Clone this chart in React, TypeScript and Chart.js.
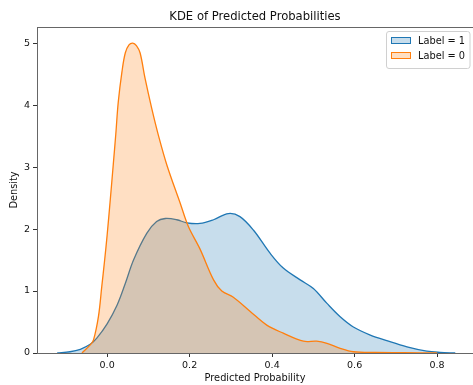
import React, { useEffect, useRef } from "react";
import { Chart, registerables } from "chart.js";

Chart.register(...registerables);

// Label = 1 KDE curve
const label1X = [-0.121, -0.09, -0.065, -0.041, -0.025, 0.0, 0.024, 0.044, 0.064, 0.096, 0.12, 0.141, 0.169, 0.193, 0.225, 0.258, 0.294, 0.322, 0.355, 0.395, 0.427, 0.468, 0.5, 0.533, 0.565, 0.597, 0.638, 0.678, 0.727, 0.775, 0.807, 0.844];
const label1Y = [0, 0.02, 0.06, 0.14, 0.24, 0.47, 0.77, 1.12, 1.5, 1.93, 2.12, 2.17, 2.15, 2.1, 2.09, 2.15, 2.25, 2.2, 1.98, 1.61, 1.37, 1.18, 1.04, 0.8, 0.585, 0.42, 0.29, 0.2, 0.1, 0.03, 0.01, 0];

// Label = 0 KDE curve
const label0X = [-0.061, -0.041, -0.033, -0.021, -0.013, -0.006, 0.0, 0.008, 0.015, 0.021, 0.027, 0.036, 0.044, 0.053, 0.062, 0.071, 0.08, 0.092, 0.108, 0.124, 0.145, 0.177, 0.197, 0.225, 0.258, 0.278, 0.306, 0.347, 0.387, 0.427, 0.476, 0.508, 0.533, 0.565, 0.597, 0.65, 0.72, 0.8];
const label0Y = [0, 0.13, 0.21, 0.59, 1.07, 1.5, 1.9, 2.5, 3.05, 3.53, 4.05, 4.54, 4.84, 4.97, 5.0, 4.96, 4.84, 4.43, 3.95, 3.52, 3.03, 2.42, 2.04, 1.68, 1.18, 1.0, 0.9, 0.67, 0.45, 0.32, 0.19, 0.19, 0.155, 0.075, 0.02, 0.008, 0.005, 0];

const xTicks = [0.0, 0.2, 0.4, 0.6, 0.8];
const yTicks = [0, 1, 2, 3, 4, 5];

const seriesNames = ["Label = 1", "Label = 0"];
const seriesLines = ["#1f77b4", "#ff7f0e"];
const seriesFills = ["rgba(31,119,180,0.25)", "rgba(255,127,14,0.25)"];

const TITLE = "KDE of Predicted Probabilities";
const XLABEL = "Predicted Probability";
const YLABEL = "Density";

export default function App() {
  const ref = useRef<HTMLCanvasElement | null>(null);

  useEffect(() => {
    if (!ref.current) return;
    const FONT = "'DejaVu Sans', sans-serif";

    const decor = {
      id: "decor",
      afterDraw(chart: any) {
        const ctx = chart.ctx as CanvasRenderingContext2D;
        const a = chart.chartArea;
        ctx.save();
        // top spine
        ctx.strokeStyle = "#666";
        ctx.lineWidth = 1;
        ctx.beginPath();
        ctx.moveTo(a.left, a.top + 0.5);
        ctx.lineTo(a.right, a.top + 0.5);
        ctx.stroke();

        const cx = (a.left + a.right) / 2;
        ctx.fillStyle = "#111";
        ctx.textAlign = "center";
        ctx.textBaseline = "middle";
        ctx.font = `11.6px ${FONT}`;
        ctx.fillText(TITLE, cx, 17);
        ctx.font = `9.8px ${FONT}`;
        ctx.fillText(XLABEL, cx, 378);
        ctx.save();
        ctx.translate(14, (a.top + a.bottom) / 2);
        ctx.rotate(-Math.PI / 2);
        ctx.fillText(YLABEL, 0, 0);
        ctx.restore();

        // legend
        const lx = 386.5, ly = 31.5, lw = 83.5, lh = 37;
        ctx.fillStyle = "rgba(255,255,255,0.85)";
        ctx.strokeStyle = "#d0d0d0";
        ctx.lineWidth = 1;
        ctx.beginPath();
        (ctx as any).roundRect(lx, ly, lw, lh, 2.5);
        ctx.fill();
        ctx.stroke();
        ctx.textAlign = "left";
        ctx.font = `9.8px ${FONT}`;
        for (let i = 0; i < seriesNames.length; i++) {
          const py = 37 + i * 15;
          ctx.fillStyle = "#fff";
          ctx.fillRect(391, py, 20, 7);
          ctx.fillStyle = seriesFills[i];
          ctx.fillRect(391, py, 20, 7);
          ctx.strokeStyle = seriesLines[i];
          ctx.strokeRect(391.5, py + 0.5, 19, 6);
          ctx.fillStyle = "#111";
          ctx.fillText(seriesNames[i], 418, py + 4);
        }
        ctx.restore();
      },
    };

    const chart = new Chart(ref.current, {
      type: "line",
      data: {
        datasets: [
          {
            label: seriesNames[0],
            data: label1X.map((x, i) => ({ x, y: label1Y[i] })),
            borderColor: seriesLines[0],
            backgroundColor: seriesFills[0],
            fill: "origin",
            order: 2,
          },
          {
            label: seriesNames[1],
            data: label0X.map((x, i) => ({ x, y: label0Y[i] })),
            borderColor: seriesLines[1],
            backgroundColor: seriesFills[1],
            fill: "origin",
            order: 1,
          },
        ],
      },
      options: {
        responsive: false,
        animation: false,
        layout: { padding: { top: 27, left: 0, right: 0, bottom: 0 } },
        elements: {
          point: { radius: 0 },
          line: { borderWidth: 1.3, tension: 0.35, capBezierPoints: true },
        },
        plugins: {
          legend: { display: false },
          title: { display: false },
          tooltip: { enabled: false },
        },
        scales: {
          x: {
            type: "linear",
            min: -0.17,
            max: 0.887,
            afterFit(s: any) { s.height = 32; },
            afterBuildTicks(s: any) { s.ticks = xTicks.map((v) => ({ value: v })); },
            grid: { drawOnChartArea: false, drawTicks: true, tickLength: 4, tickColor: "#333" },
            border: { display: true, color: "#666", width: 1 },
            ticks: {
              padding: 3,
              color: "#111",
              font: { family: FONT, size: 9.5 },
              callback: (v: any) => Number(v).toFixed(1),
            },
          },
          y: {
            type: "linear",
            min: 0,
            max: 5.26,
            afterFit(s: any) { s.width = 37; },
            afterBuildTicks(s: any) { s.ticks = yTicks.map((v) => ({ value: v })); },
            grid: { drawOnChartArea: false, drawTicks: true, tickLength: 4, tickColor: "#333" },
            border: { display: true, color: "#666", width: 1 },
            ticks: {
              padding: 3,
              color: "#111",
              font: { family: FONT, size: 9.5 },
              callback: (v: any) => String(v),
            },
          },
        },
      },
      plugins: [decor],
    });
    return () => chart.destroy();
  }, []);

  return (
    <div style={{ position: "absolute", left: 0, top: 0, width: 473, height: 385, background: "#fff" }}>
      <canvas ref={ref} width={473} height={385} style={{ width: 473, height: 385, display: "block" }} />
    </div>
  );
}
